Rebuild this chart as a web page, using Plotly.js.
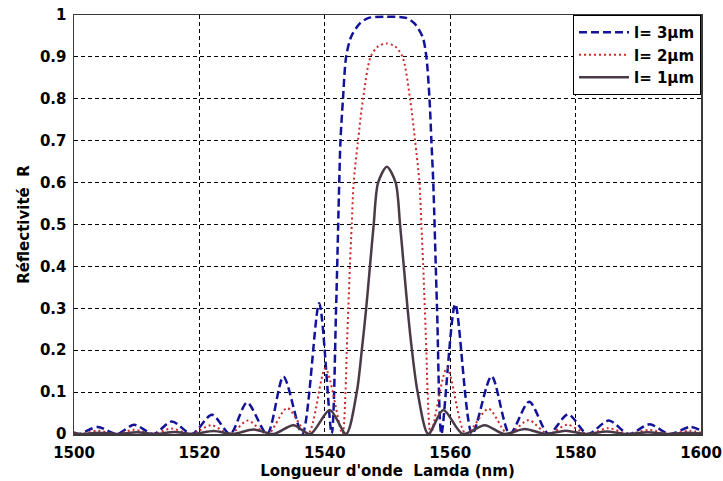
<!DOCTYPE html>
<html>
<head>
<meta charset="utf-8">
<script src="https://cdn.plot.ly/plotly-3.0.1.min.js"></script>
<style>html,body{margin:0;padding:0;background:#fff;}#chart{width:723px;height:481px;}</style>
</head>
<body>
<div id="chart"></div>
<script>
// Series names
const seriesNames = ["l= 3\u00b5m", "l= 2\u00b5m", "l= 1\u00b5m"];

// l = 3 µm (wavelength nm, reflectivity)
const lam3 = [1500.0, 1500.8, 1503.8, 1506.8, 1509.6, 1512.7, 1515.6, 1518.8, 1522.0, 1524.9, 1527.6, 1530.8, 1533.4, 1536.4, 1539.1, 1541.1,
  1541.8, 1542.3, 1542.5, 1542.9, 1543.4, 1544.2, 1545.6, 1547.0, 1549.9, 1553.0, 1554.3, 1555.6, 1556.2, 1556.7, 1557.0, 1557.3, 1557.9,
  1558.6, 1560.8, 1563.5, 1566.6, 1569.5, 1572.6, 1575.7, 1578.8, 1581.9, 1585.3, 1588.5, 1591.8, 1595.0, 1598.3, 1600.0];
const r3 = [0.004, 0.0, 0.017, 0.0, 0.022, 0.0, 0.030, 0.0, 0.046, 0.0, 0.075, 0.0, 0.137, 0.0, 0.312, 0.0,
  0.30, 0.60, 0.70, 0.80, 0.90, 0.948, 0.980, 0.993, 0.996, 0.993, 0.980, 0.948, 0.90, 0.80, 0.70, 0.60, 0.30,
  0.0, 0.310, 0.0, 0.138, 0.0, 0.077, 0.0, 0.047, 0.0, 0.032, 0.0, 0.023, 0.0, 0.017, 0.008];

// l = 2 µm
const lam2 = [1500.0, 1501.0, 1503.8, 1506.8, 1509.6, 1512.7, 1515.5, 1518.7, 1521.9, 1524.9, 1527.7, 1530.9, 1534.0, 1537.3, 1540.1, 1542.8,
  1543.3, 1543.5, 1543.75, 1544.0, 1544.3, 1544.6, 1545.3, 1546.1, 1547.3, 1548.5, 1549.8, 1551.2, 1552.4, 1553.6, 1554.4, 1555.1, 1555.4, 1555.7, 1555.95, 1556.2, 1556.4,
  1556.9, 1559.5, 1562.5, 1566.1, 1569.2, 1572.5, 1575.6, 1578.7, 1581.9, 1585.2, 1588.4, 1591.7, 1594.9, 1598.2, 1600.0];
const r2 = [0.004, 0.0, 0.008, 0.0, 0.010, 0.0, 0.013, 0.0, 0.021, 0.0, 0.032, 0.0, 0.062, 0.0, 0.157, 0.0,
  0.10, 0.20, 0.30, 0.40, 0.50, 0.60, 0.70, 0.80, 0.90, 0.925, 0.932, 0.925, 0.90, 0.80, 0.70, 0.60, 0.50, 0.40, 0.30, 0.20, 0.10,
  0.0, 0.158, 0.0, 0.060, 0.0, 0.033, 0.0, 0.022, 0.0, 0.014, 0.0, 0.010, 0.0, 0.008, 0.003];

// l = 1 µm
const lam1 = [1500.0, 1501.0, 1504.0, 1507.0, 1510.0, 1513.0, 1516.0, 1519.0, 1522.3, 1525.4, 1528.6, 1531.8, 1535.0, 1537.7, 1540.8, 1543.4,
  1545.1, 1545.9, 1546.6, 1547.2, 1547.8, 1548.5, 1549.9, 1551.3, 1552.0, 1552.6, 1553.2, 1553.9, 1554.8,
  1556.5, 1558.9, 1562.0, 1565.5, 1568.6, 1571.9, 1575.2, 1578.4, 1581.6, 1584.9, 1588.2, 1591.5, 1594.8, 1598.0, 1600.0];
const r1 = [0.002, 0.0, 0.003, 0.0, 0.004, 0.0, 0.005, 0.0, 0.007, 0.0, 0.011, 0.0, 0.021, 0.0, 0.057, 0.0,
  0.10, 0.20, 0.30, 0.40, 0.50, 0.60, 0.638, 0.60, 0.50, 0.40, 0.30, 0.20, 0.10,
  0.0, 0.057, 0.0, 0.021, 0.0, 0.012, 0.0, 0.008, 0.0, 0.006, 0.0, 0.004, 0.0, 0.003, 0.001];

// Axis ticks
const xTicks = [1500, 1520, 1540, 1560, 1580, 1600];
const yTicks = [0, 0.1, 0.2, 0.3, 0.4, 0.5, 0.6, 0.7, 0.8, 0.9, 1];
const yTickLabels = ["0", "0.1", "0.2", "0.3", "0.4", "0.5", "0.6", "0.7", "0.8", "0.9", "1"];

const FONT = "DejaVu Sans, Verdana, sans-serif";

const traces = [
  {x: lam3, y: r3, name: seriesNames[0], mode: "lines",
   line: {color: "#12129a", width: 2.5, dash: "8px,4px", shape: "spline", smoothing: 0.8}},
  {x: lam2, y: r2, name: seriesNames[1], mode: "lines",
   line: {color: "#cc2a2a", width: 2, dash: "2px,3px", shape: "spline", smoothing: 0.8}},
  {x: lam1, y: r1, name: seriesNames[2], mode: "lines",
   line: {color: "#4a3a48", width: 2.5, shape: "spline", smoothing: 0.8}}
];

const axisCommon = {
  showline: true, mirror: true, linecolor: "#3a3a3a", linewidth: 1.5,
  showgrid: true, gridcolor: "#000", gridwidth: 1, griddash: "4px,3px",
  zeroline: false, ticks: "",
  tickfont: {family: FONT, size: 15, color: "#000", weight: "bold"}
};

const layout = {
  width: 723, height: 481,
  margin: {l: 74, r: 22, t: 15, b: 47},
  paper_bgcolor: "#fff", plot_bgcolor: "#fff",
  showlegend: true,
  legend: {x: 1, y: 1, xanchor: "right", yanchor: "top",
    bgcolor: "#fff", bordercolor: "#000", borderwidth: 1, itemwidth: 50,
    font: {family: FONT, size: 15, color: "#000", weight: "bold"}},
  xaxis: Object.assign({}, axisCommon, {
    range: [1500, 1600], tickvals: xTicks, ticktext: xTicks.map(String),
    ticklabelstandoff: 4,
    title: {text: "Longueur d'onde  Lamda (nm)", standoff: 2,
      font: {family: FONT, size: 15, color: "#000", weight: "bold"}}
  }),
  yaxis: Object.assign({}, axisCommon, {
    range: [0, 1], tickvals: yTicks, ticktext: yTickLabels,
    ticklabelstandoff: 3,
    title: {text: "Réflectivité  R", standoff: 6,
      font: {family: FONT, size: 15, color: "#000", weight: "bold"}}
  })
};

Plotly.newPlot("chart", traces, layout, {displayModeBar: false, staticPlot: true});
</script>
</body>
</html>
